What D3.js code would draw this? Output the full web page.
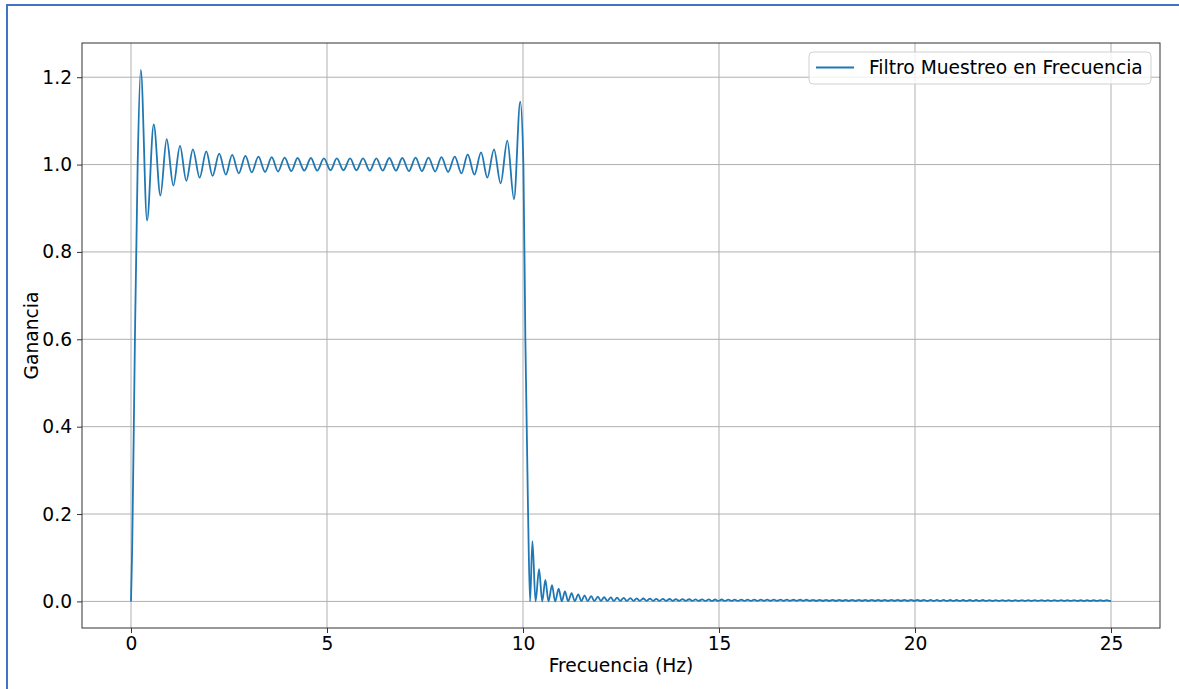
<!DOCTYPE html>
<html>
<head>
<meta charset="utf-8">
<script src="https://cdn.jsdelivr.net/npm/d3@7"></script>
<style>
  html, body { margin: 0; padding: 0; background: #ffffff; }
  svg { display: block; }
  text { font-family: "DejaVu Sans", sans-serif; fill: #000; }
</style>
</head>
<body>
<svg id="chart" width="1179" height="689"></svg>
<script>
// Frequency-sampling filter magnitude response: turning points of the curve.
// Rising edge from 0 Hz up to the first overshoot.
const riseHz   = [0.00, 0.03, 0.10, 0.17];
const riseGain = [0.000, 0.12, 0.60, 1.00];

// Passband ripple: peaks and troughs.
const peakHz = [0.25, 0.58, 0.91, 1.25, 1.58, 1.92, 2.25, 2.58, 2.92, 3.25,
                3.59, 3.92, 4.25, 4.59, 4.92, 5.25, 5.59, 5.92, 6.26, 6.59,
                6.92, 7.26, 7.59, 7.92, 8.26, 8.59, 8.93, 9.26, 9.60, 9.93];
const peakGain = [1.217, 1.092, 1.058, 1.043, 1.035, 1.030, 1.025, 1.022, 1.020, 1.018,
                  1.017, 1.016, 1.015, 1.015, 1.014, 1.014, 1.014, 1.014, 1.014, 1.015,
                  1.015, 1.016, 1.016, 1.017, 1.018, 1.023, 1.028, 1.035, 1.055, 1.144];
const troughHz = [0.41, 0.75, 1.08, 1.41, 1.75, 2.08, 2.42, 2.75, 3.08, 3.42,
                  3.75, 4.09, 4.42, 4.75, 5.09, 5.42, 5.75, 6.09, 6.42, 6.76,
                  7.09, 7.42, 7.76, 8.09, 8.43, 8.76, 9.09, 9.43, 9.77];
const troughGain = [0.872, 0.929, 0.952, 0.963, 0.970, 0.974, 0.977, 0.980, 0.982, 0.983,
                    0.984, 0.985, 0.986, 0.986, 0.987, 0.987, 0.987, 0.986, 0.986, 0.986,
                    0.985, 0.985, 0.984, 0.983, 0.980, 0.977, 0.970, 0.957, 0.921];

// Falling edge at the cutoff.
const fallHz   = [10.01, 10.06, 10.13, 10.18];
const fallGain = [1.00, 0.60, 0.20, 0.000];

// Stopband lobes: lobe tops and the dips that follow each one.
const lobeHz = [10.24, 10.41, 10.57, 10.74, 10.91, 11.07, 11.24, 11.41, 11.57, 11.74,
                11.91, 12.07, 12.24, 12.40, 12.57, 12.74, 12.90, 13.07, 13.24, 13.40,
                13.57, 13.74, 13.90, 14.07, 14.24, 14.40, 14.57, 14.74, 14.90, 15.07,
                15.24, 15.40, 15.57, 15.73, 15.90, 16.07, 16.23, 16.40, 16.57, 16.73,
                16.90, 17.07, 17.23, 17.40, 17.57, 17.73, 17.90, 18.07, 18.23, 18.40,
                18.57, 18.73, 18.90, 19.06, 19.23, 19.40, 19.56, 19.73, 19.90, 20.06,
                20.23, 20.40, 20.56, 20.73, 20.90, 21.06, 21.23, 21.40, 21.56, 21.73,
                21.90, 22.06, 22.23, 22.39, 22.56, 22.73, 22.89, 23.06, 23.23, 23.39,
                23.56, 23.73, 23.89, 24.06, 24.23, 24.39, 24.56, 24.73, 24.89];
const lobeGain = [0.138, 0.074, 0.049, 0.037, 0.029, 0.023, 0.019, 0.016, 0.014, 0.012,
                  0.011, 0.010, 0.0090, 0.0085, 0.0080, 0.0075, 0.0070, 0.0066, 0.0063, 0.0060,
                  0.0057, 0.0055, 0.0053, 0.0051, 0.0049, 0.0047, 0.0046, 0.0045, 0.0044, 0.0043,
                  0.0042, 0.0042, 0.0041, 0.0041, 0.0040, 0.0040, 0.0040, 0.0039, 0.0039, 0.0039,
                  0.0038, 0.0038, 0.0038, 0.0037, 0.0037, 0.0037, 0.0036, 0.0036, 0.0036, 0.0036,
                  0.0035, 0.0035, 0.0035, 0.0035, 0.0034, 0.0034, 0.0034, 0.0034, 0.0034, 0.0033,
                  0.0033, 0.0033, 0.0033, 0.0033, 0.0032, 0.0032, 0.0032, 0.0032, 0.0032, 0.0032,
                  0.0031, 0.0031, 0.0031, 0.0031, 0.0031, 0.0031, 0.0031, 0.0030, 0.0030, 0.0030,
                  0.0030, 0.0030, 0.0030, 0.0030, 0.0029, 0.0029, 0.0029, 0.0029, 0.0029];
const dipHz = [10.32, 10.49, 10.65, 10.82, 10.99, 11.15, 11.32, 11.49, 11.65, 11.82,
               11.99, 12.15, 12.32, 12.48, 12.65, 12.82, 12.98, 13.15, 13.32, 13.48,
               13.65, 13.82, 13.98, 14.15, 14.32, 14.48, 14.65, 14.82, 14.98, 15.15,
               15.32, 15.48, 15.65, 15.81, 15.98, 16.15, 16.31, 16.48, 16.65, 16.81,
               16.98, 17.15, 17.31, 17.48, 17.65, 17.81, 17.98, 18.15, 18.31, 18.48,
               18.65, 18.81, 18.98, 19.14, 19.31, 19.48, 19.64, 19.81, 19.98, 20.14,
               20.31, 20.48, 20.64, 20.81, 20.98, 21.14, 21.31, 21.48, 21.64, 21.81,
               21.98, 22.14, 22.31, 22.47, 22.64, 22.81, 22.97, 23.14, 23.31, 23.47,
               23.64, 23.81, 23.97, 24.14, 24.31, 24.47, 24.64, 24.81, 24.97];
const dipGain = [0.000, 0.000, 0.000, 0.000, 0.0002, 0.0004, 0.0005, 0.0006, 0.0007, 0.0008,
                 0.0009, 0.0010, 0.0010, 0.0011, 0.0011, 0.0011, 0.0012, 0.0012, 0.0012, 0.0012,
                 0.0012, 0.0012, 0.0012, 0.0012, 0.0012, 0.0012, 0.0012, 0.0012, 0.0012, 0.0012,
                 0.0012, 0.0012, 0.0012, 0.0012, 0.0012, 0.0012, 0.0012, 0.0012, 0.0012, 0.0012,
                 0.0012, 0.0012, 0.0012, 0.0011, 0.0011, 0.0011, 0.0011, 0.0011, 0.0011, 0.0011,
                 0.0011, 0.0011, 0.0011, 0.0011, 0.0011, 0.0011, 0.0011, 0.0011, 0.0011, 0.0011,
                 0.0010, 0.0010, 0.0010, 0.0010, 0.0010, 0.0010, 0.0010, 0.0010, 0.0010, 0.0010,
                 0.0010, 0.0010, 0.0010, 0.0010, 0.0010, 0.0010, 0.0010, 0.0010, 0.0010, 0.0010,
                 0.0010, 0.0010, 0.0010, 0.0010, 0.0010, 0.0010, 0.0010, 0.0010, 0.0010];
const endHz = [25.00];
const endGain = [0.0015];

const xTicks = [0, 5, 10, 15, 20, 25];
const yTicks = [0.0, 0.2, 0.4, 0.6, 0.8, 1.0, 1.2];
const seriesName = "Filtro Muestreo en Frecuencia";
const xTitle = "Frecuencia (Hz)";
const yTitle = "Ganancia";

// Assemble the response as (Hz, gain) points ordered by frequency.
const zip = (a, b) => a.map((v, i) => [v, b[i]]);
const points = [].concat(
  zip(riseHz, riseGain),
  zip(peakHz, peakGain),
  zip(troughHz, troughGain),
  zip(fallHz, fallGain),
  zip(lobeHz, lobeGain),
  zip(dipHz, dipGain),
  zip(endHz, endGain)
).sort((a, b) => a[0] - b[0]);

const FONT = 18.67;
const svg = d3.select("#chart");
const plot = { left: 82, top: 43, right: 1160, bottom: 628 };

// Outer frame of the figure.
svg.append("rect")
  .attr("x", 7).attr("y", 5).attr("width", 1300).attr("height", 800)
  .attr("fill", "none").attr("stroke", "#4472c4").attr("stroke-width", 2);

const x = d3.scaleLinear().domain([-1.25, 26.25]).range([plot.left, plot.right]);
const y = d3.scaleLinear().domain([-0.0609, 1.2783]).range([plot.bottom, plot.top]);

// Grid
const grid = svg.append("g");
grid.selectAll("line.gx").data(xTicks).join("line")
  .attr("x1", d => x(d)).attr("x2", d => x(d))
  .attr("y1", plot.top).attr("y2", plot.bottom)
  .attr("stroke", "#b0b0b0").attr("stroke-width", 1);
grid.selectAll("line.gy").data(yTicks).join("line")
  .attr("x1", plot.left).attr("x2", plot.right)
  .attr("y1", d => y(d)).attr("y2", d => y(d))
  .attr("stroke", "#b0b0b0").attr("stroke-width", 1);

// Axes
const xAxis = svg.append("g")
  .attr("transform", `translate(0,${plot.bottom})`)
  .call(d3.axisBottom(x).tickValues(xTicks).tickFormat(d3.format("d")).tickSize(5).tickPadding(4));
const yAxis = svg.append("g")
  .attr("transform", `translate(${plot.left},0)`)
  .call(d3.axisLeft(y).tickValues(yTicks).tickFormat(d3.format(".1f")).tickSize(5).tickPadding(5));
[xAxis, yAxis].forEach(g => {
  g.select(".domain").remove();
  g.selectAll(".tick line").attr("stroke", "#333").attr("stroke-width", 1);
  g.selectAll(".tick text").attr("font-size", FONT).attr("font-family", "DejaVu Sans").attr("fill", "#000");
});

// Curve
const line = d3.line()
  .x(d => x(d[0])).y(d => y(d[1]))
  .curve(d3.curveMonotoneX);
svg.append("path")
  .datum(points)
  .attr("d", line)
  .attr("fill", "none")
  .attr("stroke", "#1f77b4")
  .attr("stroke-width", 1.8)
  .attr("stroke-linejoin", "round");

// Plot frame
svg.append("rect")
  .attr("x", plot.left).attr("y", plot.top)
  .attr("width", plot.right - plot.left).attr("height", plot.bottom - plot.top)
  .attr("fill", "none").attr("stroke", "#333").attr("stroke-width", 1);

// Axis titles
svg.append("text")
  .attr("x", (plot.left + plot.right) / 2).attr("y", 672)
  .attr("text-anchor", "middle").attr("font-size", FONT)
  .text(xTitle);
svg.append("text")
  .attr("transform", `translate(38,${(plot.top + plot.bottom) / 2}) rotate(-90)`)
  .attr("text-anchor", "middle").attr("font-size", FONT)
  .text(yTitle);

// Legend
const lg = svg.append("g").attr("transform", "translate(809,52)");
lg.append("rect")
  .attr("width", 342).attr("height", 32).attr("rx", 4)
  .attr("fill", "#ffffff").attr("fill-opacity", 0.8)
  .attr("stroke", "#d0d0d0").attr("stroke-width", 1);
lg.append("line")
  .attr("x1", 7).attr("x2", 45).attr("y1", 15.5).attr("y2", 15.5)
  .attr("stroke", "#1f77b4").attr("stroke-width", 1.8);
lg.append("text")
  .attr("x", 60).attr("y", 22).attr("font-size", FONT)
  .text(seriesName);
</script>
</body>
</html>
